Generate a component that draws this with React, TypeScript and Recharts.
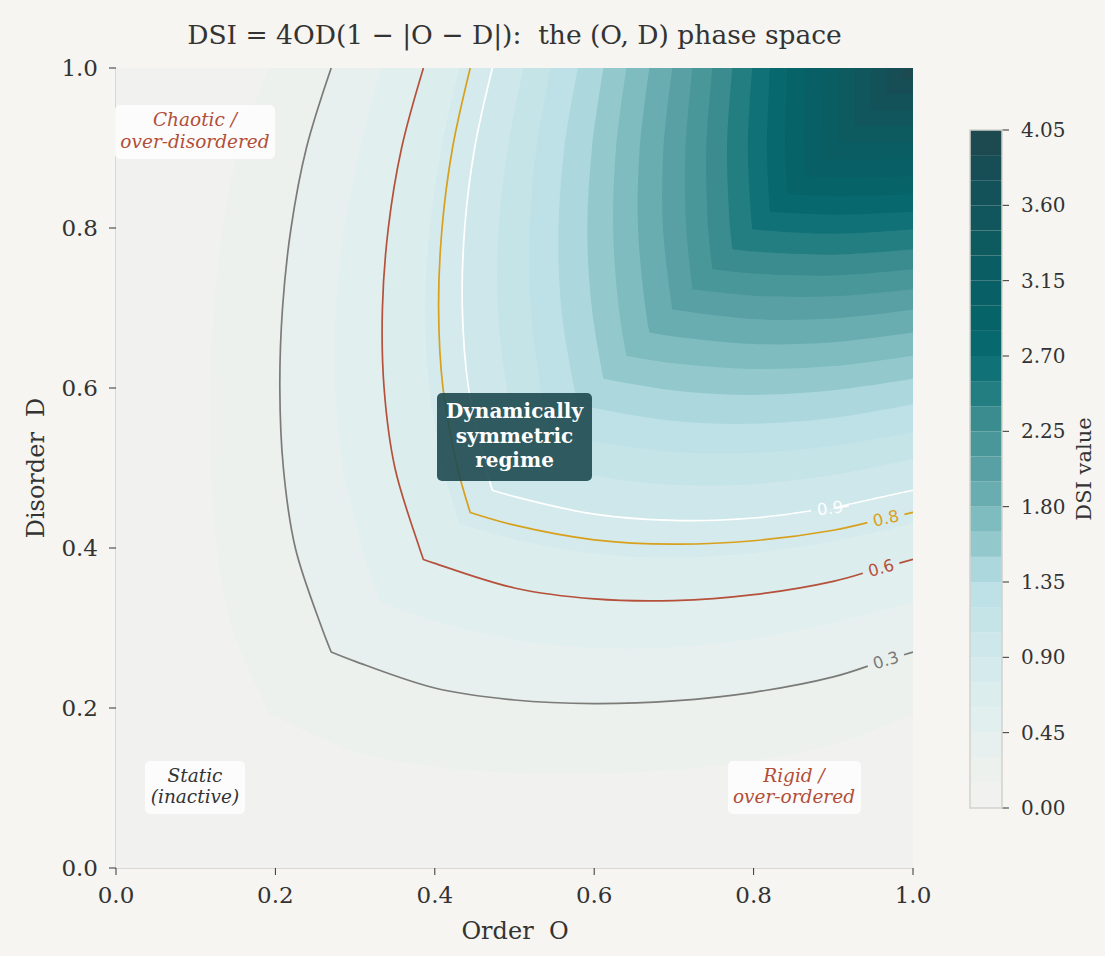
import React from 'react';
import { ScatterChart, Scatter, XAxis, YAxis, BarChart, Bar } from 'recharts';

// ---- data -------------------------------------------------------------
const O_VALUES = [0, 0.1, 0.2, 0.3, 0.4, 0.5, 0.6, 0.7, 0.8, 0.9, 1.0];
const D_VALUES = [0, 0.1, 0.2, 0.3, 0.4, 0.5, 0.6, 0.7, 0.8, 0.9, 1.0];
// DSI_GRID[row = D index][col = O index]
const DSI_GRID = [
  [0, 0, 0, 0, 0, 0, 0, 0, 0, 0, 0],
  [0, 0.04, 0.072, 0.096, 0.112, 0.12, 0.12, 0.112, 0.096, 0.072, 0.04],
  [0, 0.072, 0.16, 0.216, 0.256, 0.28, 0.288, 0.28, 0.256, 0.216, 0.16],
  [0, 0.096, 0.216, 0.36, 0.432, 0.48, 0.504, 0.504, 0.48, 0.432, 0.36],
  [0, 0.112, 0.256, 0.432, 0.64, 0.72, 0.768, 0.784, 0.768, 0.72, 0.64],
  [0, 0.12, 0.28, 0.48, 0.72, 1.0, 1.08, 1.12, 1.12, 1.08, 1.0],
  [0, 0.12, 0.288, 0.504, 0.768, 1.08, 1.44, 1.512, 1.536, 1.512, 1.44],
  [0, 0.112, 0.28, 0.504, 0.784, 1.12, 1.512, 1.96, 2.016, 2.016, 1.96],
  [0, 0.096, 0.256, 0.48, 0.768, 1.12, 1.536, 2.016, 2.56, 2.592, 2.56],
  [0, 0.072, 0.216, 0.432, 0.72, 1.08, 1.512, 2.016, 2.592, 3.24, 3.24],
  [0, 0.04, 0.16, 0.36, 0.64, 1.0, 1.44, 1.96, 2.56, 3.24, 4.0],
];
const LEVELS = [0, 0.15, 0.3, 0.45, 0.6, 0.75, 0.9, 1.05, 1.2, 1.35, 1.5, 1.65, 1.8, 1.95,
  2.1, 2.25, 2.4, 2.55, 2.7, 2.85, 3.0, 3.15, 3.3, 3.45, 3.6, 3.75, 3.9, 4.05];
const BAND_COLORS = [
  '#f1f2ef', '#ecf1ee', '#e7f0ef', '#e2efef', '#dcedee', '#d5eaec', '#cde7ea',
  '#c5e4e8', '#bde1e6', '#acd8dd', '#93c9cd', '#7ebcc0', '#6aadb0', '#58a0a3',
  '#4a979a', '#3a8c8f', '#237e82', '#107176', '#07686d', '#066368', '#086066',
  '#0a5d62', '#0d5a5f', '#10565c', '#135259', '#174e55', '#1c4a50',
];
const CB_TICKS = [0, 0.45, 0.9, 1.35, 1.8, 2.25, 2.7, 3.15, 3.6, 4.05];
const AXIS_TICKS = [0, 0.2, 0.4, 0.6, 0.8, 1.0];
const CONTOUR_LEVELS = [0.3, 0.6, 0.8, 0.9];
const CONTOUR_LABELS = ['0.3', '0.6', '0.8', '0.9'];
const CONTOUR_COLORS = ['#7b7b78', '#b5513b', '#d8a01c', '#ffffff'];
const CONTOUR_LABEL_O = [0.966, 0.96, 0.966, 0.896];

// ---- contouring on the value grid --------------------------------------
type P = { x: number; y: number };
function levelCurve(c: number): { pts: P[]; nU: number } {
  const n = O_VALUES.length;
  let s = 0;
  for (let k = 0; k < n - 1; k++) {
    const a = DSI_GRID[k][k], b = DSI_GRID[k + 1][k + 1];
    if (a <= c && b > c) { s = O_VALUES[k] + (O_VALUES[k + 1] - O_VALUES[k]) * (c - a) / (b - a); break; }
  }
  const upper: P[] = [];
  for (let j = n - 1; j >= 0; j--) {
    const D = D_VALUES[j];
    if (D <= s) break;
    for (let i = 0; i < j; i++) {
      const a = DSI_GRID[j][i], b = DSI_GRID[j][i + 1];
      if (a <= c && b > c) {
        upper.push({ x: O_VALUES[i] + (O_VALUES[i + 1] - O_VALUES[i]) * (c - a) / (b - a), y: D });
        break;
      }
    }
  }
  upper.push({ x: s, y: s });
  const lower: P[] = [];
  for (let i = 0; i < n; i++) {
    const O = O_VALUES[i];
    if (O <= s) continue;
    for (let j = 0; j < i; j++) {
      const a = DSI_GRID[j][i], b = DSI_GRID[j + 1][i];
      if (a <= c && b > c) {
        lower.push({ x: O, y: D_VALUES[j] + (D_VALUES[j + 1] - D_VALUES[j]) * (c - a) / (b - a) });
        break;
      }
    }
  }
  return { pts: [...upper, ...lower], nU: upper.length };
}

const bandPolys = LEVELS.slice(0, -1).map((c, k) => {
  const lc = levelCurve(c);
  return { color: BAND_COLORS[k], nU: lc.nU, nC: lc.pts.length, pts: [...lc.pts, { x: 1, y: 1 }] };
});
const contourLines = CONTOUR_LEVELS.map((c, k) => {
  const lc = levelCurve(c);
  return { pts: lc.pts, nU: lc.nU, color: CONTOUR_COLORS[k], label: CONTOUR_LABELS[k], labelO: CONTOUR_LABEL_O[k] };
});

const cbRow: Record<string, number | string> = { name: 'cb' };
LEVELS.slice(0, -1).forEach((l, k) => { cbRow['b' + k] = +(LEVELS[k + 1] - l).toFixed(2); });
const cbData = [cbRow];

// ---- path helpers (centripetal Catmull-Rom, as d3 curveCatmullRom) -------
type XY = { x: number; y: number };
const f2 = (v: number) => v.toFixed(2);
function crSegments(pts: XY[]): string {
  let d = '';
  const eps = 1e-9;
  for (let i = 0; i < pts.length - 1; i++) {
    const p0 = pts[i - 1] || pts[i], p1 = pts[i], p2 = pts[i + 1], p3 = pts[i + 2] || pts[i + 1];
    const d01 = Math.hypot(p1.x - p0.x, p1.y - p0.y);
    const d12 = Math.hypot(p2.x - p1.x, p2.y - p1.y);
    const d23 = Math.hypot(p3.x - p2.x, p3.y - p2.y);
    const l01a = Math.sqrt(d01), l12a = Math.sqrt(d12), l23a = Math.sqrt(d23);
    const l01_2a = d01, l12_2a = d12, l23_2a = d23;
    let c1x = p1.x, c1y = p1.y, c2x = p2.x, c2y = p2.y;
    if (l01a > eps) {
      const a = 2 * l01_2a + 3 * l01a * l12a + l12_2a;
      const nn = 3 * l01a * (l01a + l12a);
      c1x = (p1.x * a - p0.x * l12_2a + p2.x * l01_2a) / nn;
      c1y = (p1.y * a - p0.y * l12_2a + p2.y * l01_2a) / nn;
    }
    if (l23a > eps) {
      const b = 2 * l23_2a + 3 * l23a * l12a + l12_2a;
      const m = 3 * l23a * (l23a + l12a);
      c2x = (p2.x * b + p1.x * l23_2a - p3.x * l12_2a) / m;
      c2y = (p2.y * b + p1.y * l23_2a - p3.y * l12_2a) / m;
    }
    d += ` C${f2(c1x)},${f2(c1y)} ${f2(c2x)},${f2(c2y)} ${f2(p2.x)},${f2(p2.y)}`;
  }
  return d;
}
function branchPath(pts: XY[], nU: number): string {
  const up = pts.slice(0, nU);
  const lo = pts.slice(nU - 1);
  return `M${f2(up[0].x)},${f2(up[0].y)}` + crSegments(up) + crSegments(lo);
}

// ---- renderers ---------------------------------------------------------
const NoDot = () => <g />;

const polyRenderer = (color: string, nU: number, nC: number) => (props: any) => {
  const pts: XY[] = props.points || [];
  if (pts.length < 3) return <g />;
  const curve = pts.slice(0, nC);
  const corner = pts[nC];
  const d = branchPath(curve, nU) + ` L${f2(corner.x)},${f2(corner.y)} Z`;
  return <path d={d} fill={color} stroke="none" />;
};

function splitAt(pts: XY[], nU: number, idx: number, f: number) {
  // returns the two halves (pixel) of the curve cut at segment idx, fraction f
  const P = { x: pts[idx].x + f * (pts[idx + 1].x - pts[idx].x), y: pts[idx].y + f * (pts[idx + 1].y - pts[idx].y) };
  return P;
}

const lineRenderer = (dataPts: P[], nU: number, labelO: number, color: string, text: string) => (props: any) => {
  const pts: XY[] = props.points || [];
  if (pts.length < 2) return <g />;
  let idx = pts.length - 2, f = 0.5;
  for (let k = dataPts.length - 2; k >= 0; k--) {
    const a = dataPts[k], b = dataPts[k + 1];
    if (a.x <= labelO && b.x > labelO) { idx = k; f = (labelO - a.x) / (b.x - a.x); break; }
  }
  const A = pts[idx], B = pts[idx + 1];
  const L = splitAt(pts, nU, idx, f);
  const ang = (Math.atan2(B.y - A.y, B.x - A.x) * 180) / Math.PI;
  const segLen = Math.hypot(B.x - A.x, B.y - A.y) || 1;
  const ux = (B.x - A.x) / segLen, uy = (B.y - A.y) / segLen;
  const gap = 19;
  const G1 = { x: L.x - ux * gap, y: L.y - uy * gap };
  const G2 = { x: L.x + ux * gap, y: L.y + uy * gap };
  // first piece: all points up to idx, then G1 ; second: G2 then points after idx
  const first = [...pts.slice(0, idx + 1), G1];
  const second = [G2, ...pts.slice(idx + 1)];
  const d1 = `M${f2(first[0].x)},${f2(first[0].y)}` +
    (nU - 1 <= idx ? crSegments(first.slice(0, nU)) + crSegments(first.slice(nU - 1)) : crSegments(first));
  const d2 = `M${f2(second[0].x)},${f2(second[0].y)}` + crSegments(second);
  return (
    <g>
      <path d={d1} fill="none" stroke={color} strokeWidth={1.7} strokeLinejoin="round" />
      <path d={d2} fill="none" stroke={color} strokeWidth={1.7} strokeLinejoin="round" />
      <text x={L.x} y={L.y} transform={`rotate(${ang.toFixed(2)},${f2(L.x)},${f2(L.y)})`}
        textAnchor="middle" dominantBaseline="central" fill={color}
        style={{ fontFamily: "'DejaVu Sans', sans-serif", fontSize: 16.5 }}>{text}</text>
    </g>
  );
};

const SERIF = "'DejaVu Serif', serif";
const TXT = '#333333';

export default function App() {
  return (
    <div style={{ position: 'absolute', left: 0, top: 0, width: 1105, height: 956, background: '#f6f5f1', overflow: 'hidden' }}>
      <div style={{ position: 'absolute', left: 0, top: 0 }}>
        <ScatterChart width={1105} height={956} margin={{ top: 68, right: 192, bottom: 28, left: 56 }}>
          <XAxis type="number" dataKey="x" domain={[0, 1]} ticks={AXIS_TICKS} allowDataOverflow
            tickFormatter={(v: number) => v.toFixed(1)} height={60} tickSize={7} tickMargin={12}
            tick={{ fill: TXT, fontSize: 23, fontFamily: SERIF }} tickLine={{ stroke: '#333' }}
            axisLine={{ stroke: '#cfcfc7', strokeWidth: 1.5 }} />
          <YAxis type="number" dataKey="y" domain={[0, 1]} ticks={AXIS_TICKS} allowDataOverflow
            tickFormatter={(v: number) => v.toFixed(1)} width={60} tickSize={7} tickMargin={11}
            tick={{ fill: TXT, fontSize: 23, fontFamily: SERIF }} tickLine={{ stroke: '#333' }}
            axisLine={{ stroke: '#cfcfc7', strokeWidth: 1.5 }} />
          {bandPolys.map((b, k) => (
            <Scatter key={'band' + k} data={b.pts} shape={NoDot} line={polyRenderer(b.color, b.nU, b.nC)}
              lineType="joint" isAnimationActive={false} />
          ))}
          {contourLines.map((c, k) => (
            <Scatter key={'line' + k} data={c.pts} shape={NoDot}
              line={lineRenderer(c.pts, c.nU, c.labelO, c.color, c.label)} lineType="joint" isAnimationActive={false} />
          ))}
        </ScatterChart>
      </div>
      <div style={{ position: 'absolute', left: 960, top: 0 }}>
        <BarChart width={145} height={956} data={cbData} barCategoryGap={0} barGap={0}
          margin={{ top: 130, right: 33, bottom: 148, left: 10 }}>
          <XAxis dataKey="name" type="category" hide />
          <YAxis type="number" orientation="right" domain={[0, 4.05]} ticks={CB_TICKS} allowDataOverflow
            tickFormatter={(v: number) => v.toFixed(2)} width={70} tickSize={7} tickMargin={12}
            tick={{ fill: TXT, fontSize: 20, fontFamily: SERIF }} tickLine={{ stroke: '#333' }} axisLine={false} />
          {BAND_COLORS.map((col, k) => (
            <Bar key={'cb' + k} dataKey={'b' + k} stackId="cb" fill={col} isAnimationActive={false} />
          ))}
        </BarChart>
      </div>
      <svg width={1105} height={956} style={{ position: 'absolute', left: 0, top: 0, pointerEvents: 'none' }}>
        <rect x={970} y={130} width={32} height={678} fill="none" stroke="#d2d2cb" strokeWidth={1.5} />
        <text x={514.5} y={44} textAnchor="middle" fill={TXT} style={{ fontFamily: SERIF, fontSize: 26.5, whiteSpace: 'pre' }}>
          {'DSI = 4OD(1 \u2212 |O \u2212 D|):  the (O, D) phase space'}
        </text>
        <text x={515} y={939} textAnchor="middle" fill={TXT} style={{ fontFamily: SERIF, fontSize: 24, whiteSpace: 'pre' }}>
          {'Order  O'}
        </text>
        <text x={44} y={468} textAnchor="middle" transform="rotate(-90,44,468)" fill={TXT}
          style={{ fontFamily: SERIF, fontSize: 24, whiteSpace: 'pre' }}>{'Disorder  D'}</text>
        <text x={1091} y={469} textAnchor="middle" transform="rotate(-90,1091,469)" fill={TXT}
          style={{ fontFamily: SERIF, fontSize: 21, whiteSpace: 'pre' }}>{'DSI value'}</text>

        <rect x={115} y={105} width={160} height={54} rx={5} fill="#ffffff" fillOpacity={0.78} />
        <text textAnchor="middle" fill="#b24e38" style={{ fontFamily: SERIF, fontSize: 18.5, fontStyle: 'italic' }}>
          <tspan x={195} y={126}>Chaotic /</tspan>
          <tspan x={195} y={148}>over-disordered</tspan>
        </text>

        <rect x={145} y={761} width={100} height={53} rx={5} fill="#ffffff" fillOpacity={0.78} />
        <text textAnchor="middle" fill={TXT} style={{ fontFamily: SERIF, fontSize: 18.5, fontStyle: 'italic' }}>
          <tspan x={195} y={782}>Static</tspan>
          <tspan x={195} y={803}>(inactive)</tspan>
        </text>

        <rect x={728} y={761} width={133} height={53} rx={5} fill="#ffffff" fillOpacity={0.78} />
        <text textAnchor="middle" fill="#b24e38" style={{ fontFamily: SERIF, fontSize: 18.5, fontStyle: 'italic' }}>
          <tspan x={794} y={782}>Rigid /</tspan>
          <tspan x={794} y={803}>over-ordered</tspan>
        </text>

        <rect x={437} y={393} width={155} height={88} rx={5} fill="#1e4a50" fillOpacity={0.9} />
        <text textAnchor="middle" fill="#ffffff" style={{ fontFamily: SERIF, fontSize: 20, fontWeight: 'bold' }}>
          <tspan x={514.5} y={418}>Dynamically</tspan>
          <tspan x={514.5} y={443}>symmetric</tspan>
          <tspan x={514.5} y={467}>regime</tspan>
        </text>
      </svg>
    </div>
  );
}
